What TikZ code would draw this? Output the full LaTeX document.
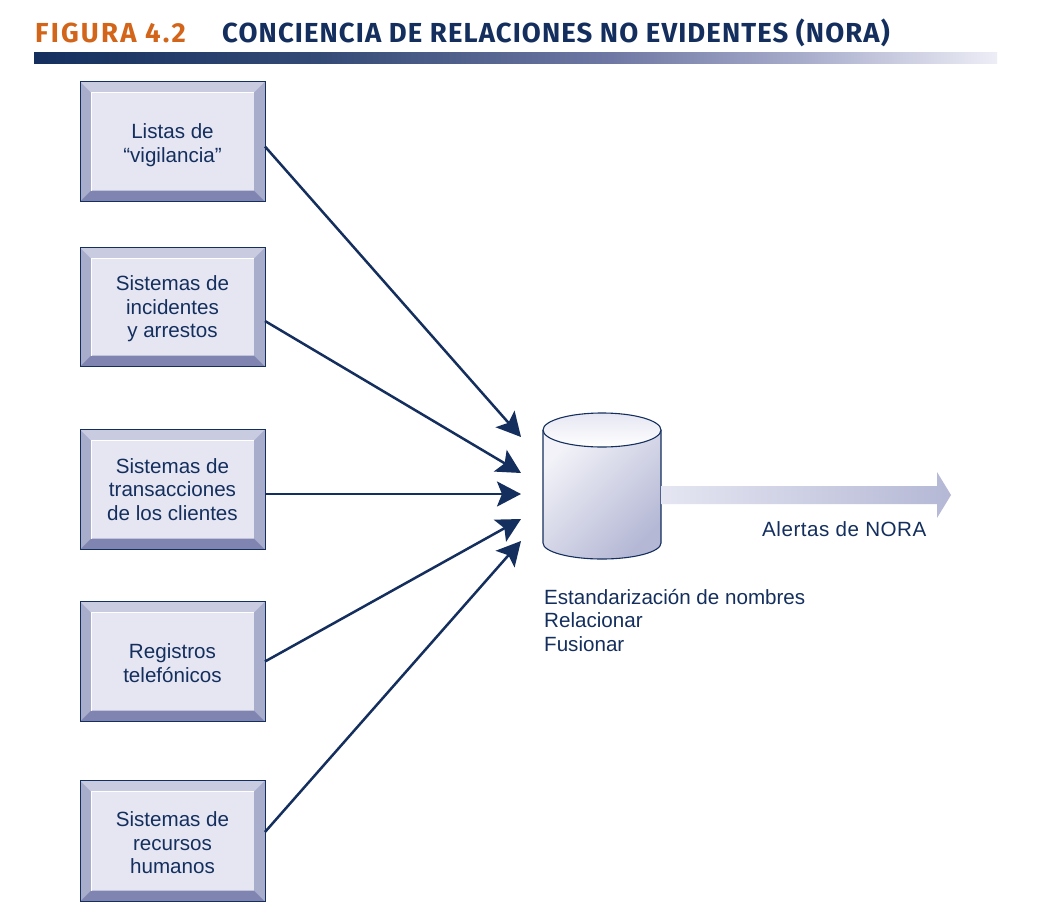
\documentclass[tikz,border=0pt]{standalone}
\usepackage{fontspec}
\setmainfont{Liberation Sans}
\newfontfamily\titlefont[LetterSpace=4]{Fira Sans Bold}
\newfontfamily\figfont[LetterSpace=8]{Fira Sans Bold}
\usetikzlibrary{arrows.meta}
\definecolor{navy}{HTML}{142F5E}
\definecolor{orng}{HTML}{D2651A}
\definecolor{bevT}{HTML}{C9CBE0}
\definecolor{bevS}{HTML}{A9ADCC}
\definecolor{bevB}{HTML}{7F85B0}
\definecolor{inner}{HTML}{E5E6F2}
\definecolor{cylA}{HTML}{F2F2F8}
\definecolor{cylB}{HTML}{B5B8D5}
\pgfdeclarehorizontalshading{hdrbar}{100bp}{
 color(0bp)=(navy); color(25bp)=(navy); color(40bp)=(navy!78!bevS);
 color(55bp)=(bevB!85!navy); color(65bp)=(bevS); color(75bp)=(inner!70!white); color(100bp)=(inner!70!white)}
\newcommand{\toppad}[1]{\rule{0pt}{#1pt}}
\tikzset{
 x=1pt,y=-1pt,
 bevelbox/.style={rectangle,draw=navy,line width=1pt,fill=inner,minimum width=185pt,outer sep=0pt,inner sep=0pt,
   text=navy,font=\fontsize{20.6}{23.5}\selectfont,align=center,
   path picture={
     \path (path picture bounding box.north west) coordinate (nw)
           (path picture bounding box.south east) coordinate (se);
     \begin{scope}[x=1pt,y=1pt]
     \fill[bevT] (nw) -- (se|-nw) -- ([shift={(-11pt,-11pt)}]se|-nw) -- ([shift={(11pt,-11pt)}]nw) -- cycle;
     \fill[bevS] (se|-nw) -- (se) -- ([shift={(-11pt,11pt)}]se) -- ([shift={(-11pt,-11pt)}]se|-nw) -- cycle;
     \fill[bevS] (nw) -- (nw|-se) -- ([shift={(11pt,11pt)}]nw|-se) -- ([shift={(11pt,-11pt)}]nw) -- cycle;
     \fill[bevB] (nw|-se) -- (se) -- ([shift={(-11pt,11pt)}]se) -- ([shift={(11pt,11pt)}]nw|-se) -- cycle;
     \draw[white,line width=1pt] ([shift={(11pt,11pt)}]nw|-se) -- ([shift={(11pt,-11pt)}]nw) -- ([shift={(-11pt,-11pt)}]se|-nw);
     \end{scope}
   }},
 link/.style={navy,line width=2.5pt,-{Stealth[length=24pt,width=25pt,inset=5pt]}},
 lbl/.style={text=navy,font=\fontsize{20.6}{23.5}\selectfont,inner sep=0pt},
 headtext/.style={anchor=west,inner sep=0pt,font=\fontsize{27.5}{27.5}\selectfont},
}
\begin{document}
\begin{tikzpicture}
\useasboundingbox (0,0) rectangle (1039,913);
\fill[white] (0,0) rectangle (1039,913);
\node[headtext,text=orng] (fig) at (35,33) {\figfont FIGURA 4.2};
\node[headtext,text=navy] (ttl) at (222,33) {\titlefont CONCIENCIA DE RELACIONES NO EVIDENTES (NORA)};
\shade[shading=hdrbar] (34,52) rectangle (997,63);

\node[bevelbox,minimum height=120pt] (b1) at (172.5,141.5) {\toppad{22}Listas de\\“vigilancia”};
\node[bevelbox,minimum height=119pt] (b2) at (172.5,307) {\toppad{19}Sistemas de\\incidentes\\y arrestos};
\node[bevelbox,minimum height=120pt] (b3) at (172.5,489.5) {Sistemas de\\transacciones\\de los clientes};
\node[bevelbox,minimum height=120pt] (b4) at (172.5,661.5) {\toppad{18}Registros\\telefónicos};
\node[bevelbox,minimum height=121pt] (b5) at (172.5,841) {\toppad{19}Sistemas de\\recursos\\humanos};

% cylinder
\node[minimum width=118pt,minimum height=146pt,inner sep=0pt,outer sep=0pt] (db) at (602,486) {};
\shade[top color=cylA,bottom color=cylB,shading angle=45]
  (543,430) -- (543,543) arc[start angle=180,end angle=0,x radius=59,y radius=16] -- (661,430) -- cycle;
\draw[navy,line width=1.1pt] (543,430) -- (543,543) arc[start angle=180,end angle=0,x radius=59,y radius=16] -- (661,430);
\shade[top color=inner,bottom color=white] (602,430) ellipse[x radius=59,y radius=17];
\draw[navy,line width=1.1pt] (602,430) ellipse[x radius=59,y radius=17];

% connectors
\coordinate (e1) at (521,437);
\coordinate (e2) at (521,473);
\coordinate (e3) at (521,494);
\coordinate (e4) at (521,519);
\coordinate (e5) at (521,541);
\draw[link] ([yshift=-5pt]b1.east) -- (e1);
\draw[link] ([yshift=-14pt]b2.east) -- (e2);
\draw[link] ([yshift=-4.5pt]b3.east) -- (e3);
\draw[link] (b4.east) -- (e4);
\draw[link] ([yshift=9pt]b5.east) -- (e5);

% output arrow
\coordinate (tip) at (951,495);
\shade[left color=inner,right color=cylB]
  (661,486) -- (937,486) -- (937,472) -- (tip) -- (937,518) -- (937,504) -- (661,504) -- cycle;

\node[lbl,anchor=base west] (al) at (762,536) {\addfontfeature{LetterSpace=2.5}Alertas de NORA};
\node[lbl,anchor=base west] (l1) at (544,604) {Estandarización de nombres};
\node[lbl,anchor=base west] (l2) at (544,627.5) {Relacionar};
\node[lbl,anchor=base west] (l3) at (544,651) {Fusionar};
\end{tikzpicture}
\end{document}
